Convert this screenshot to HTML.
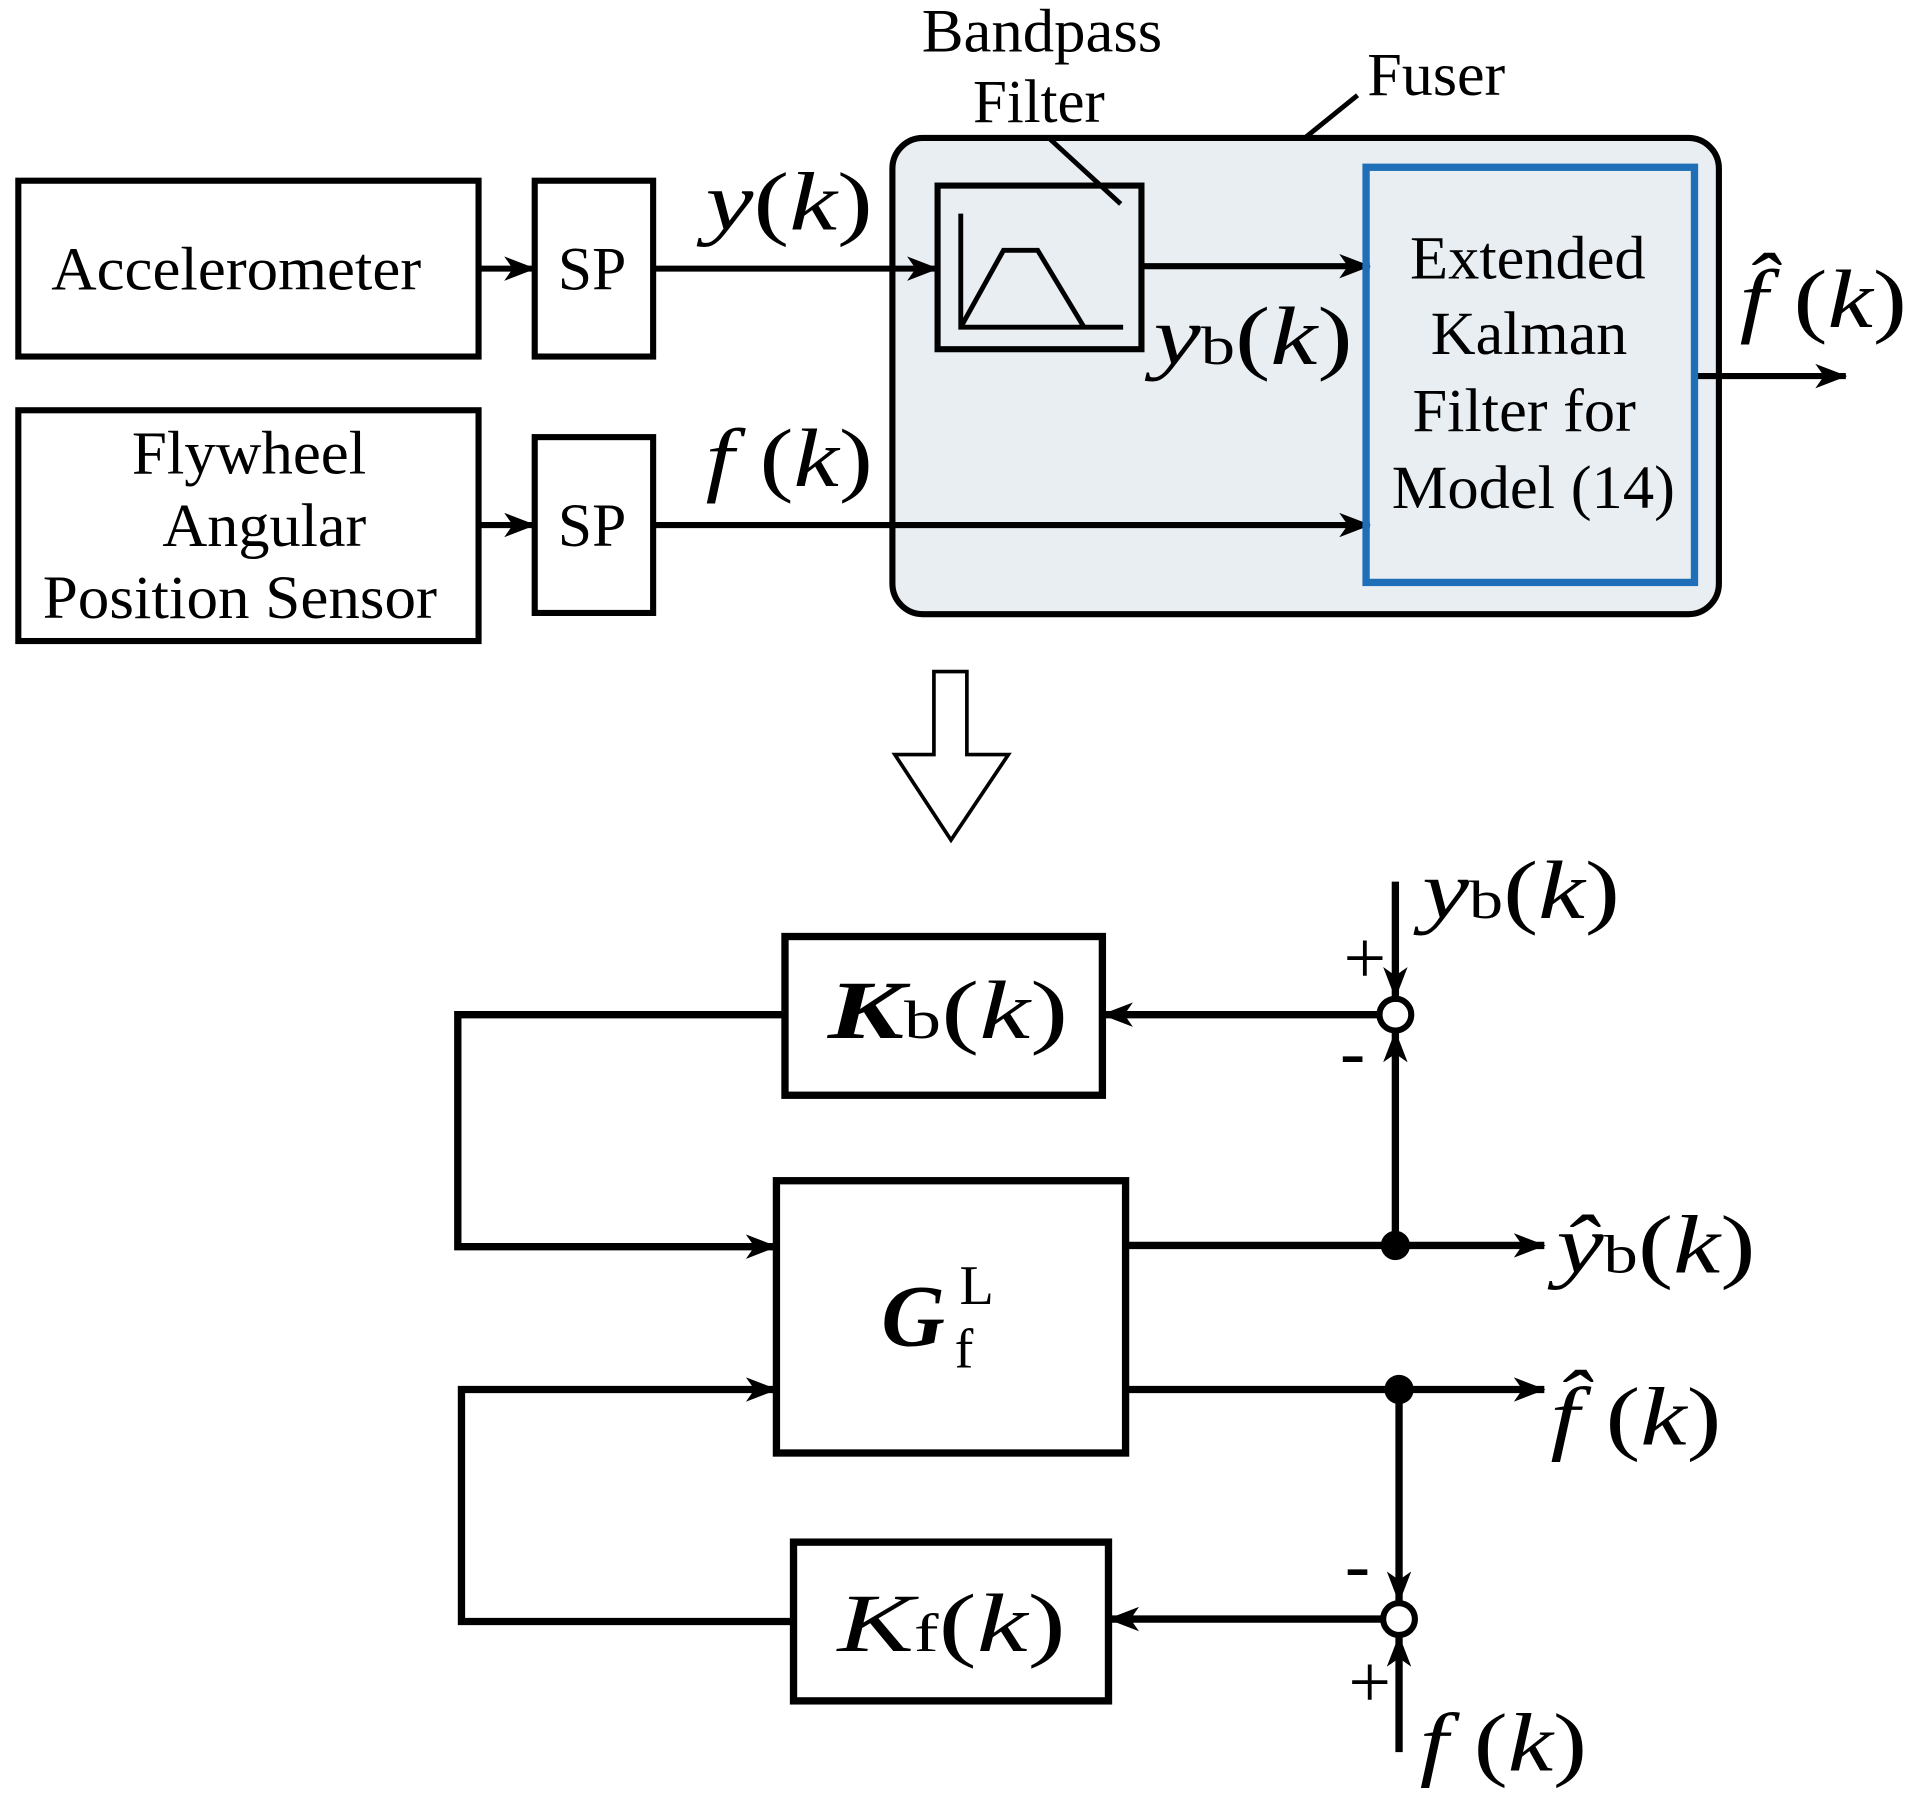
<!DOCTYPE html>
<html><head><meta charset="utf-8"><style>
html,body{margin:0;padding:0;background:#fff;}
svg{display:block;}
text{font-family:"Liberation Serif",serif;fill:#000;}
.v{font-style:italic;}
</style></head><body>
<svg width="1913" height="1801" viewBox="0 0 1567 1475" preserveAspectRatio="none" xmlns="http://www.w3.org/2000/svg">
<defs>
<marker id="a" viewBox="0 0 26 20" refX="25" refY="10" markerWidth="26" markerHeight="20" markerUnits="userSpaceOnUse" orient="auto">
<path d="M0,0 L26,10 L0,20 L7,10 Z" fill="#000"/></marker>
</defs>
<g fill="none" stroke="#000" stroke-width="5">
<rect x="15" y="148" width="377" height="144"/>
<rect x="438" y="148" width="97" height="144"/>
<rect x="15" y="336" width="377" height="189"/>
<rect x="438" y="358" width="97" height="144"/>
<rect x="731" y="113" width="677" height="390" rx="25" fill="#e8eef2"/>
<rect x="768" y="152" width="167" height="134"/>
<path d="M787,175 V268 H920 M787,268 L822,205 H850 L888,268" stroke-width="4"/>
<path d="M858,112 L918,167" stroke-width="4"/>
<path d="M1070,112 L1112,78" stroke-width="4"/>
<line x1="392" y1="220" x2="438" y2="220" marker-end="url(#a)"/>
<line x1="392" y1="430" x2="438" y2="430" marker-end="url(#a)"/>
<line x1="535" y1="220" x2="768" y2="220" marker-end="url(#a)"/>
<line x1="535" y1="430" x2="1122" y2="430" marker-end="url(#a)"/>
<line x1="935" y1="218" x2="1122" y2="218" marker-end="url(#a)"/>
<line x1="1388" y1="308" x2="1512" y2="308" marker-end="url(#a)"/>
</g>
<rect x="1119" y="137" width="269" height="340" fill="none" stroke="#1f6fb8" stroke-width="6"/>
<path d="M765,550 H792 V618 H826 L779,688 L733,618 H765 Z" fill="#fff" stroke="#000" stroke-width="3"/>
<g fill="none" stroke="#000" stroke-width="6">
<rect x="643" y="767" width="260" height="130"/>
<rect x="636" y="967" width="286" height="223"/>
<rect x="650" y="1263" width="258" height="130"/>
<polyline points="643,831 375,831 375,1021 636,1021" marker-end="url(#a)"/>
<polyline points="650,1328 378,1328 378,1138 636,1138" marker-end="url(#a)"/>
<line x1="1143" y1="722" x2="1143" y2="817" marker-end="url(#a)"/>
<line x1="1143" y1="1020" x2="1143" y2="845" marker-end="url(#a)"/>
<line x1="1129" y1="831" x2="903" y2="831" marker-end="url(#a)"/>
<line x1="922" y1="1020" x2="1265" y2="1020" marker-end="url(#a)"/>
<line x1="922" y1="1138" x2="1265" y2="1138" marker-end="url(#a)"/>
<line x1="1146" y1="1138" x2="1146" y2="1312" marker-end="url(#a)"/>
<line x1="1146" y1="1435" x2="1146" y2="1340" marker-end="url(#a)"/>
<line x1="1132" y1="1326" x2="908" y2="1326" marker-end="url(#a)"/>
</g>
<circle cx="1143" cy="831" r="13" fill="#fff" stroke="#000" stroke-width="5"/>
<circle cx="1146" cy="1326" r="13" fill="#fff" stroke="#000" stroke-width="5"/>
<circle cx="1143" cy="1020" r="12" fill="#000"/>
<circle cx="1146" cy="1138" r="12" fill="#000"/>
<g font-size="50">
<text x="42" y="237" textLength="303" lengthAdjust="spacingAndGlyphs">Accelerometer</text>
<text x="457" y="237" textLength="56" lengthAdjust="spacingAndGlyphs">SP</text>
<text x="457" y="447" textLength="56" lengthAdjust="spacingAndGlyphs">SP</text>
<text x="108" y="388" textLength="192" lengthAdjust="spacingAndGlyphs">Flywheel</text>
<text x="133" y="447" textLength="167" lengthAdjust="spacingAndGlyphs">Angular</text>
<text x="35" y="506" textLength="323" lengthAdjust="spacingAndGlyphs">Position Sensor</text>
<text x="755" y="42" textLength="197" lengthAdjust="spacingAndGlyphs">Bandpass</text>
<text x="797" y="100" textLength="108" lengthAdjust="spacingAndGlyphs">Filter</text>
<text x="1120" y="78" textLength="113" lengthAdjust="spacingAndGlyphs">Fuser</text>
<text x="1155" y="228" textLength="193" lengthAdjust="spacingAndGlyphs">Extended</text>
<text x="1172" y="290" textLength="161" lengthAdjust="spacingAndGlyphs">Kalman</text>
<text x="1157" y="353" textLength="183" lengthAdjust="spacingAndGlyphs">Filter for</text>
<text x="1140" y="416" textLength="232" lengthAdjust="spacingAndGlyphs">Model (14)</text>
</g>
<g font-size="62" text-anchor="middle">
<text x="1118" y="805">+</text>
<text x="1108" y="882">-</text>
<text x="1112" y="1302">-</text>
<text x="1122" y="1398">+</text>
</g>
<g font-size="68">
<text x="578" y="188" textLength="137" lengthAdjust="spacingAndGlyphs"><tspan class="v">y</tspan>(<tspan class="v">k</tspan>)</text>
<text x="578" y="398" textLength="137" lengthAdjust="spacingAndGlyphs"><tspan class="v">f</tspan> (<tspan class="v">k</tspan>)</text>
<text x="945" y="298" textLength="163" lengthAdjust="spacingAndGlyphs"><tspan class="v">y</tspan><tspan font-size="44">b</tspan>(<tspan class="v">k</tspan>)</text>
<text x="1425" y="268" textLength="137" lengthAdjust="spacingAndGlyphs"><tspan class="v">f̂</tspan> (<tspan class="v">k</tspan>)</text>
<text x="1165" y="752" textLength="162" lengthAdjust="spacingAndGlyphs"><tspan class="v">y</tspan><tspan font-size="44">b</tspan>(<tspan class="v">k</tspan>)</text>
<text x="1275" y="1042" textLength="163" lengthAdjust="spacingAndGlyphs"><tspan class="v">ŷ</tspan><tspan font-size="44">b</tspan>(<tspan class="v">k</tspan>)</text>
<text x="1270" y="1183" textLength="140" lengthAdjust="spacingAndGlyphs"><tspan class="v">f̂</tspan> (<tspan class="v">k</tspan>)</text>
<text x="1163" y="1450" textLength="137" lengthAdjust="spacingAndGlyphs"><tspan class="v">f</tspan> (<tspan class="v">k</tspan>)</text>
<text x="678" y="850" textLength="197" lengthAdjust="spacingAndGlyphs"><tspan class="v" font-weight="bold">K</tspan><tspan font-size="44">b</tspan>(<tspan class="v">k</tspan>)</text>
<text x="686" y="1352" textLength="187" lengthAdjust="spacingAndGlyphs"><tspan class="v">K</tspan><tspan font-size="44">f</tspan>(<tspan class="v">k</tspan>)</text>
<text x="722" y="1102" class="v" font-weight="bold" font-size="72">G</text>
<text x="782" y="1120" font-size="46">f</text>
<text x="786" y="1068" font-size="46">L</text>
</g>
</svg>
</body></html>
